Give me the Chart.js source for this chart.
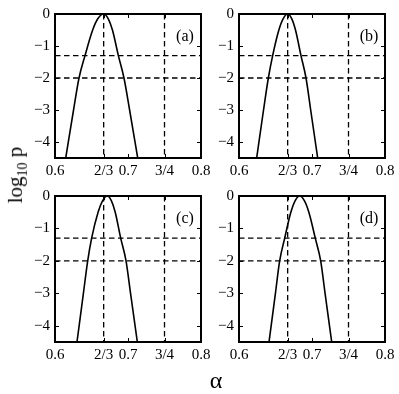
<!DOCTYPE html>
<html>
<head>
<meta charset="utf-8">
<script src="https://cdn.jsdelivr.net/npm/chart.js@4.4.0/dist/chart.umd.min.js"></script>
<style>
    body { margin: 0; background: #fff; }
    #wrap { position: relative; width: 399px; height: 394px; overflow: hidden; font-family: 'Liberation Serif', serif; color: #000; }
    #wrap canvas { position: absolute; left: 0; top: 0; }
    .ylab { position: absolute; left: 17px; top: 175px; transform: translate(-50%, -50%) rotate(-90deg); font-size: 21px; white-space: nowrap; }
    .ylab sub { font-size: 14px; }
    .xlab { position: absolute; left: 216px; top: 380px; transform: translate(-50%, -50%); font-size: 24px; }
</style>
</head>
<body>
<div id="wrap">
    <canvas id="pa" width="399" height="394"></canvas>
    <canvas id="pb" width="399" height="394"></canvas>
    <canvas id="pc" width="399" height="394"></canvas>
    <canvas id="pd" width="399" height="394"></canvas>
    <div class="ylab">log<sub>10</sub> p</div>
    <div class="xlab">α</div>
</div>
<script>
// axis ticks
const xTicks = [0.6, 2 / 3, 0.7, 0.75, 0.8];
const xTickLabels = ['0.6', '2/3', '0.7', '3/4', '0.8'];
const yTicks = [-4, -3, -2, -1, 0];

// dashed reference lines
const refAlpha = [2 / 3, 3 / 4];
const refLogP = [-1.301, -2];

// curves (same log10 p levels for every panel)
const curveLogP = [-4.5, -3, -2, -1.3, -0.5, -0.15, 0, -0.15, -0.5, -1.3, -2, -3, -4.5];
const alphaA = [0.6147, 0.6254, 0.6329, 0.6411, 0.6516, 0.6586, 0.6667, 0.6730, 0.6787, 0.6868, 0.6945, 0.7022, 0.7133];
const alphaB = [0.6242, 0.6336, 0.6402, 0.6461, 0.6546, 0.6604, 0.6667, 0.6723, 0.6774, 0.6849, 0.6918, 0.6982, 0.7078];
const alphaC = [0.6301, 0.6389, 0.6448, 0.6502, 0.6590, 0.6651, 0.6717, 0.6773, 0.6825, 0.6900, 0.6973, 0.7035, 0.7128];
const alphaD = [0.6411, 0.6499, 0.6557, 0.6626, 0.6710, 0.6768, 0.6831, 0.6897, 0.6957, 0.7045, 0.7119, 0.7179, 0.7270];

const panelNames = ['(a)', '(b)', '(c)', '(d)'];

const FONT = 'Liberation Serif';

const framePlugin = {
    id: 'frame',
    afterDatasetsDraw(chart, args, opts) {
        const { ctx, chartArea: a, scales: { x, y } } = chart;
        ctx.save();
        ctx.strokeStyle = '#000';
        ctx.lineWidth = 1;
        ctx.beginPath();
        xTicks.forEach(v => {
            const px = Math.round(x.getPixelForValue(v)) + 0.5;
            ctx.moveTo(px, a.bottom); ctx.lineTo(px, a.bottom - 4);
            ctx.moveTo(px, a.top); ctx.lineTo(px, a.top + 4);
        });
        yTicks.forEach(v => {
            const py = Math.round(y.getPixelForValue(v)) + 0.5;
            ctx.moveTo(a.left, py); ctx.lineTo(a.left + 4, py);
            ctx.moveTo(a.right, py); ctx.lineTo(a.right - 4, py);
        });
        ctx.stroke();
        ctx.lineWidth = 2;
        ctx.strokeRect(a.left, a.top, a.right - a.left, a.bottom - a.top);
        ctx.fillStyle = '#000';
        ctx.font = '16px ' + FONT;
        ctx.textAlign = 'center';
        ctx.textBaseline = 'middle';
        ctx.fillText(opts.label, a.right - 16, a.top + 23);
        ctx.restore();
    }
};

function makePanel(id, area, alphas, label) {
    const curve = alphas.map((a, i) => ({ x: a, y: curveLogP[i] }));
    const dashed = [];
    refAlpha.forEach(v => dashed.push([{ x: v, y: 0 }, { x: v, y: -4.5 }]));
    refLogP.forEach(v => dashed.push([{ x: 0.6, y: v }, { x: 0.8, y: v }]));

    const datasets = [{
        data: curve,
        borderColor: '#000',
        borderWidth: 1.6,
        pointRadius: 0,
        cubicInterpolationMode: 'monotone'
    }];
    dashed.forEach(d => datasets.push({
        data: d,
        borderColor: '#000',
        borderWidth: 1.3,
        borderDash: [5.5, 3.5],
        pointRadius: 0
    }));

    new Chart(document.getElementById(id), {
        type: 'scatter',
        data: { datasets },
        options: {
            responsive: false,
            animation: false,
            events: [],
            showLine: true,
            layout: {
                padding: {
                    left: area.left - 55,
                    top: area.top,
                    right: 399 - area.right,
                    bottom: 394 - area.bottom - 30
                }
            },
            scales: {
                x: {
                    type: 'linear',
                    min: 0.6,
                    max: 0.8,
                    grid: { display: false, drawTicks: false },
                    border: { display: false },
                    afterBuildTicks: s => { s.ticks = xTicks.map(v => ({ value: v })); },
                    afterFit: s => { s.height = 30; },
                    ticks: {
                        autoSkip: false,
                        maxRotation: 0,
                        padding: 4,
                        color: '#000',
                        font: { family: FONT, size: 15 },
                        callback: (v, i) => xTickLabels[i]
                    }
                },
                y: {
                    type: 'linear',
                    min: -4.5,
                    max: 0,
                    grid: { display: false, drawTicks: false },
                    border: { display: false },
                    afterBuildTicks: s => { s.ticks = yTicks.map(v => ({ value: v })); },
                    afterFit: s => { s.width = 55; },
                    ticks: {
                        padding: 5,
                        color: '#000',
                        font: { family: FONT, size: 15 },
                        callback: v => (v < 0 ? '\u2212' : '') + Math.abs(v)
                    }
                }
            },
            plugins: {
                legend: { display: false },
                tooltip: { enabled: false },
                frame: { label }
            }
        },
        plugins: [framePlugin]
    });
}

makePanel('pa', { left: 55, top: 13, right: 201, bottom: 158 }, alphaA, panelNames[0]);
makePanel('pb', { left: 239, top: 13, right: 385, bottom: 158 }, alphaB, panelNames[1]);
makePanel('pc', { left: 55, top: 196, right: 201, bottom: 342 }, alphaC, panelNames[2]);
makePanel('pd', { left: 239, top: 196, right: 385, bottom: 342 }, alphaD, panelNames[3]);
</script>
</body>
</html>
